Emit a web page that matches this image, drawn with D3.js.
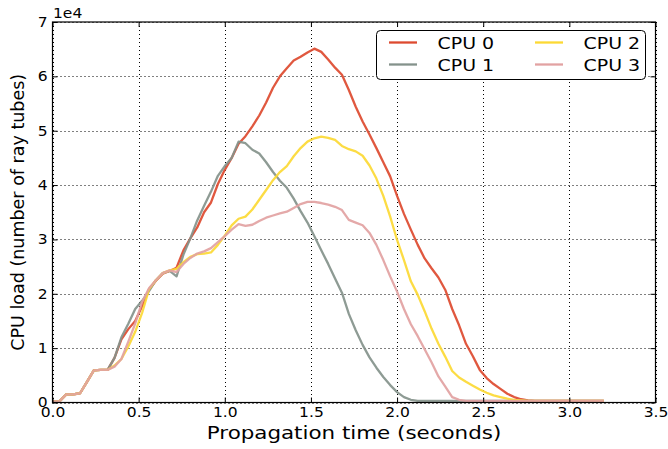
<!DOCTYPE html>
<html>
<head>
<meta charset="utf-8">
<script src="https://cdn.jsdelivr.net/npm/d3@7"></script>
<style>
  html, body { margin: 0; padding: 0; background: #fff; }
  svg { display: block; font-family: "DejaVu Sans", "Bitstream Vera Sans", sans-serif; }
</style>
</head>
<body>
<svg id="chart" width="668" height="449"></svg>
<script>
// Propagation time samples (seconds)
const times = [
  0.00, 0.04, 0.08, 0.12, 0.16, 0.20, 0.24, 0.28, 0.32, 0.36,
  0.40, 0.44, 0.48, 0.52, 0.56, 0.60, 0.64, 0.68, 0.72, 0.76,
  0.80, 0.84, 0.88, 0.92, 0.96, 1.00, 1.04, 1.08, 1.12, 1.16,
  1.20, 1.24, 1.28, 1.32, 1.36, 1.40, 1.44, 1.48, 1.52, 1.56,
  1.60, 1.64, 1.68, 1.72, 1.76, 1.80, 1.84, 1.88, 1.92, 1.96,
  2.00, 2.04, 2.08, 2.12, 2.16, 2.20, 2.24, 2.28, 2.32, 2.36,
  2.40, 2.44, 2.48, 2.52, 2.56, 2.60, 2.64, 2.68, 2.72, 2.76,
  2.80, 2.84, 2.88, 2.92, 2.96, 3.00, 3.04, 3.08, 3.12, 3.16, 3.20
];

// CPU load per processor, in units of 1e4 ray tubes
const cpu0 = [
  0.02, 0.02, 0.15, 0.15, 0.17, 0.38, 0.59, 0.60, 0.60, 0.82,
  1.16, 1.35, 1.50, 1.77, 2.08, 2.24, 2.37, 2.42, 2.48, 2.80,
  3.02, 3.22, 3.50, 3.68, 4.02, 4.28, 4.50, 4.76, 4.90, 5.08,
  5.28, 5.52, 5.79, 6.00, 6.15, 6.29, 6.36, 6.44, 6.51, 6.45,
  6.31, 6.16, 6.03, 5.75, 5.44, 5.17, 4.93, 4.68, 4.42, 4.16,
  3.80, 3.47, 3.18, 2.90, 2.65, 2.47, 2.30, 2.07, 1.72, 1.42,
  1.08, 0.85, 0.60, 0.45, 0.34, 0.25, 0.16, 0.10, 0.06, 0.04,
  0.03, 0.03, 0.03, 0.03, 0.03, 0.03, 0.03, 0.03, 0.03, 0.03, 0.03
];
const cpu1 = [
  0.02, 0.02, 0.15, 0.15, 0.17, 0.38, 0.59, 0.60, 0.60, 0.82,
  1.20, 1.45, 1.72, 1.87, 2.05, 2.25, 2.38, 2.42, 2.32, 2.72,
  3.02, 3.35, 3.62, 3.88, 4.17, 4.35, 4.50, 4.80, 4.77, 4.65,
  4.58, 4.42, 4.24, 4.08, 3.95, 3.75, 3.52, 3.31, 3.06, 2.80,
  2.55, 2.28, 2.02, 1.63, 1.33, 1.06, 0.83, 0.64, 0.47, 0.32,
  0.19, 0.10, 0.05, 0.03, 0.03, 0.03, 0.03, 0.03, 0.03, 0.03,
  0.03, 0.03, 0.03, 0.03, 0.03, 0.03, 0.03, 0.03, 0.03, 0.03,
  0.03, 0.03, 0.03, 0.03, 0.03, 0.03, 0.03, 0.03, 0.03, 0.03, 0.03
];
const cpu2 = [
  0.02, 0.02, 0.15, 0.15, 0.17, 0.38, 0.59, 0.60, 0.60, 0.68,
  0.80, 1.03, 1.30, 1.65, 2.08, 2.25, 2.38, 2.43, 2.46, 2.58,
  2.68, 2.73, 2.74, 2.76, 2.90, 3.07, 3.26, 3.38, 3.42, 3.55,
  3.73, 3.91, 4.09, 4.24, 4.35, 4.53, 4.68, 4.80, 4.86, 4.89,
  4.87, 4.83, 4.72, 4.66, 4.62, 4.54, 4.36, 4.12, 3.80, 3.42,
  2.99, 2.62, 2.23, 1.98, 1.68, 1.36, 1.08, 0.84, 0.58, 0.46,
  0.38, 0.31, 0.24, 0.18, 0.13, 0.10, 0.07, 0.05, 0.04, 0.03,
  0.03, 0.03, 0.03, 0.03, 0.03, 0.03, 0.03, 0.03, 0.03, 0.03, 0.03
];
const cpu3 = [
  0.02, 0.02, 0.15, 0.15, 0.17, 0.38, 0.59, 0.60, 0.60, 0.66,
  0.80, 1.12, 1.45, 1.85, 2.10, 2.25, 2.38, 2.43, 2.40, 2.55,
  2.66, 2.74, 2.78, 2.84, 2.95, 3.06, 3.18, 3.28, 3.25, 3.27,
  3.34, 3.40, 3.44, 3.48, 3.51, 3.58, 3.65, 3.69, 3.69, 3.67,
  3.64, 3.60, 3.54, 3.36, 3.31, 3.26, 3.12, 2.90, 2.62, 2.32,
  2.04, 1.72, 1.44, 1.22, 0.98, 0.74, 0.48, 0.29, 0.10, 0.05,
  0.03, 0.03, 0.03, 0.03, 0.03, 0.03, 0.03, 0.03, 0.03, 0.03,
  0.03, 0.03, 0.03, 0.03, 0.03, 0.03, 0.03, 0.03, 0.03, 0.03, 0.03
];

const seriesNames = ["CPU 0", "CPU 1", "CPU 2", "CPU 3"];
const seriesColors = ["#dd4a2f", "#84928b", "#fcd934", "#e2a2a2"];

const xTicks = [0.0, 0.5, 1.0, 1.5, 2.0, 2.5, 3.0, 3.5];
const yTicks = [0, 1, 2, 3, 4, 5, 6, 7];
const xLabel = "Propagation time (seconds)";
const yLabel = "CPU load (number of ray tubes)";
const yOffsetLabel = "1e4";

// ---- layout ----
const svg = d3.select("#chart");
const plot = { left: 52.5, right: 655.5, top: 22, bottom: 402.5 };
const SX = 1.15; // horizontal text stretch

const x = d3.scaleLinear().domain([0, 3.5]).range([plot.left, plot.right]);
const y = d3.scaleLinear().domain([0, 7]).range([plot.bottom, plot.top]);

const series = [cpu0, cpu1, cpu2, cpu3].map((vals, i) => ({
  name: seriesNames[i],
  color: seriesColors[i],
  points: times.map((t, j) => ({ t, v: vals[j] }))
}));

// grid
const grid = svg.append("g").attr("class", "grid");
grid.selectAll("line.gx").data(xTicks).join("line")
  .attr("x1", d => Math.round(x(d)) + 0.5).attr("x2", d => Math.round(x(d)) + 0.5)
  .attr("y1", plot.top).attr("y2", plot.bottom)
  .attr("stroke", "#000").attr("stroke-width", 1).attr("stroke-dasharray", "1,3");
grid.selectAll("line.gy").data(yTicks).join("line")
  .attr("y1", d => Math.round(y(d)) + 0.5).attr("y2", d => Math.round(y(d)) + 0.5)
  .attr("x1", plot.left).attr("x2", plot.right)
  .attr("stroke", "#000").attr("stroke-width", 1).attr("stroke-dasharray", "1,3");

// lines
const line = d3.line().x(d => x(d.t)).y(d => y(d.v));
svg.append("g").selectAll("path").data(series).join("path")
  .attr("d", d => line(d.points))
  .attr("fill", "none")
  .attr("stroke", d => d.color)
  .attr("stroke-width", 2.3)
  .attr("stroke-linejoin", "round")
  .attr("stroke-opacity", 0.92);

// axes (ticks pointing inward on all sides)
const fmtX = d3.format(".1f");
const gx = svg.append("g").attr("transform", `translate(0,${plot.bottom})`)
  .call(d3.axisBottom(x).tickValues(xTicks).tickFormat(fmtX).tickSizeInner(-5).tickSizeOuter(0).tickPadding(5));
const gy = svg.append("g").attr("transform", `translate(${plot.left},0)`)
  .call(d3.axisLeft(y).tickValues(yTicks).tickFormat(d3.format("d")).tickSizeInner(-5).tickSizeOuter(0).tickPadding(5));
svg.append("g").attr("transform", `translate(0,${plot.top})`)
  .call(d3.axisTop(x).tickValues(xTicks).tickFormat("").tickSizeInner(-5).tickSizeOuter(0));
svg.append("g").attr("transform", `translate(${plot.right},0)`)
  .call(d3.axisRight(y).tickValues(yTicks).tickFormat("").tickSizeInner(-5).tickSizeOuter(0));

svg.selectAll(".domain").remove();
svg.selectAll(".tick line").attr("stroke", "#000").attr("stroke-width", 1);

[gx, gy].forEach(g => {
  g.selectAll(".tick text")
    .attr("font-size", 13.5)
    .attr("fill", "#000")
    .attr("font-family", "DejaVu Sans, sans-serif")
    .each(function() {
      const t = d3.select(this);
      const xv = +t.attr("x") || 0;
      t.attr("x", xv / SX).attr("transform", `scale(${SX},1)`);
    });
});

// frame
svg.append("rect")
  .attr("x", plot.left).attr("y", plot.top)
  .attr("width", plot.right - plot.left).attr("height", plot.bottom - plot.top)
  .attr("fill", "none").attr("stroke", "#000").attr("stroke-width", 1.2);

// offset text
svg.append("text")
  .attr("transform", `translate(${plot.left + 0.5},18) scale(${SX},1)`)
  .attr("font-size", 13.5)
  .text(yOffsetLabel);

// axis labels
svg.append("text")
  .attr("transform", `translate(${(plot.left + plot.right) / 2},439) scale(1.19,1)`)
  .attr("text-anchor", "middle")
  .attr("font-size", 18)
  .text(xLabel);
svg.append("text")
  .attr("transform", `translate(24,${(plot.top + plot.bottom) / 2}) rotate(-90)`)
  .attr("text-anchor", "middle")
  .attr("font-size", 17.5)
  .text(yLabel);

// legend
const lg = svg.append("g");
lg.append("rect")
  .attr("x", 376.5).attr("y", 30.5).attr("width", 269).attr("height", 49).attr("rx", 4)
  .attr("fill", "#fff").attr("stroke", "#000").attr("stroke-width", 1);
const legendPos = [
  { lx: 389, tx: 437.5, cy: 42.5 },
  { lx: 389, tx: 437.5, cy: 64.5 },
  { lx: 535, tx: 583.5, cy: 42.5 },
  { lx: 535, tx: 583.5, cy: 64.5 }
];
series.forEach((s, i) => {
  const p = legendPos[i];
  lg.append("line")
    .attr("x1", p.lx).attr("x2", p.lx + 28).attr("y1", p.cy).attr("y2", p.cy)
    .attr("stroke", s.color).attr("stroke-width", 2.3);
  lg.append("text")
    .attr("transform", `translate(${p.tx},${p.cy + 6}) scale(${SX},1)`)
    .attr("font-size", 16.5)
    .text(s.name);
});
</script>
</body>
</html>
